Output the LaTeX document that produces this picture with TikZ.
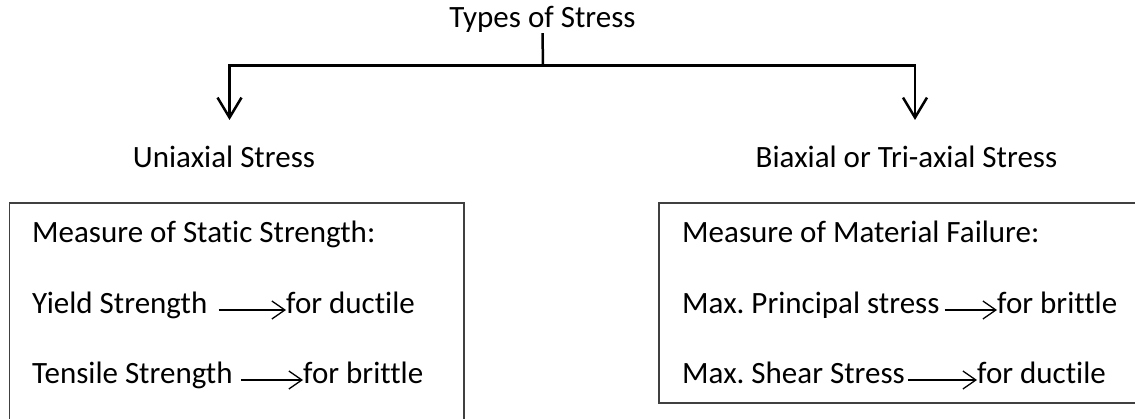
\documentclass[tikz,border=0pt]{standalone}
\usepackage{fontspec}
\setmainfont[RawFeature=-liga]{Carlito}
\usetikzlibrary{arrows.meta}
\begin{document}
\frenchspacing
\begin{tikzpicture}[x=1pt,y=-1pt,
  txt/.style={inner sep=0pt, font=\fontsize{31}{37}\selectfont},
  conn/.style={line width=2.5pt, black},
  bigarrow/.style={conn, -{Straight Barb[length=20pt,width=24pt,line width=2.5pt]}},
  textarrow/.style={line width=1.1pt, -{Straight Barb[length=13pt,width=18pt,line width=1.3pt]}},
  panel/.style={draw=black!75, line width=1.3pt}]
\useasboundingbox (0,0) rectangle (1135,419);
% title and headings
\node[txt, anchor=base] (title) at (542.5,28) {Types of Stress};
\node[txt, anchor=base] (uni) at (224,168) {Uniaxial Stress};
\node[txt, anchor=base] (bi) at (906.5,168) {Biaxial or Tri-axial Stress};
% connectors
\coordinate (j) at (543,65.5);
\coordinate (la) at (229.5,120);
\coordinate (ra) at (915,120);
\draw[conn] (title.south) -- (j);
\draw[bigarrow] (j) -| (la);
\draw[bigarrow] (j) -| (ra);
% boxes
\draw[panel] (9.5,203) rectangle (464,440);
\draw[panel] (659,203) rectangle (1150,403);
% left box text
\node[txt, anchor=base west] (lh) at (32,243) {Measure of Static Strength:};
\node[txt, anchor=base west] (l1a) at (32,314) {Yield Strength};
\node[txt, anchor=base west] (l1b) at (286,314) {for ductile};
\node[txt, anchor=base west] (l2a) at (32,384) {Tensile Strength};
\node[txt, anchor=base west] (l2b) at (303,384) {for brittle};
\draw[textarrow] ([shift={(11,-4)}]l1a.base east) -- ([shift={(0,-4)}]l1b.base west);
\draw[textarrow] ([shift={(8,-4)}]l2a.base east) -- ([shift={(0,-4)}]l2b.base west);
% right box text
\node[txt, anchor=base west] (rh) at (682,243) {Measure of Material Failure:};
\node[txt, anchor=base west] (r1a) at (682,314) {Max. Principal stress};
\node[txt, anchor=base west] (r1b) at (997,314) {for brittle};
\node[txt, anchor=base west] (r2a) at (682,384) {Max. Shear Stress};
\node[txt, anchor=base west] (r2b) at (977,384) {for ductile};
\draw[textarrow] ([shift={(5,-4)}]r1a.base east) -- ([shift={(0,-4)}]r1b.base west);
\draw[textarrow] ([shift={(3,-4)}]r2a.base east) -- ([shift={(0,-4)}]r2b.base west);
\end{tikzpicture}
\end{document}
